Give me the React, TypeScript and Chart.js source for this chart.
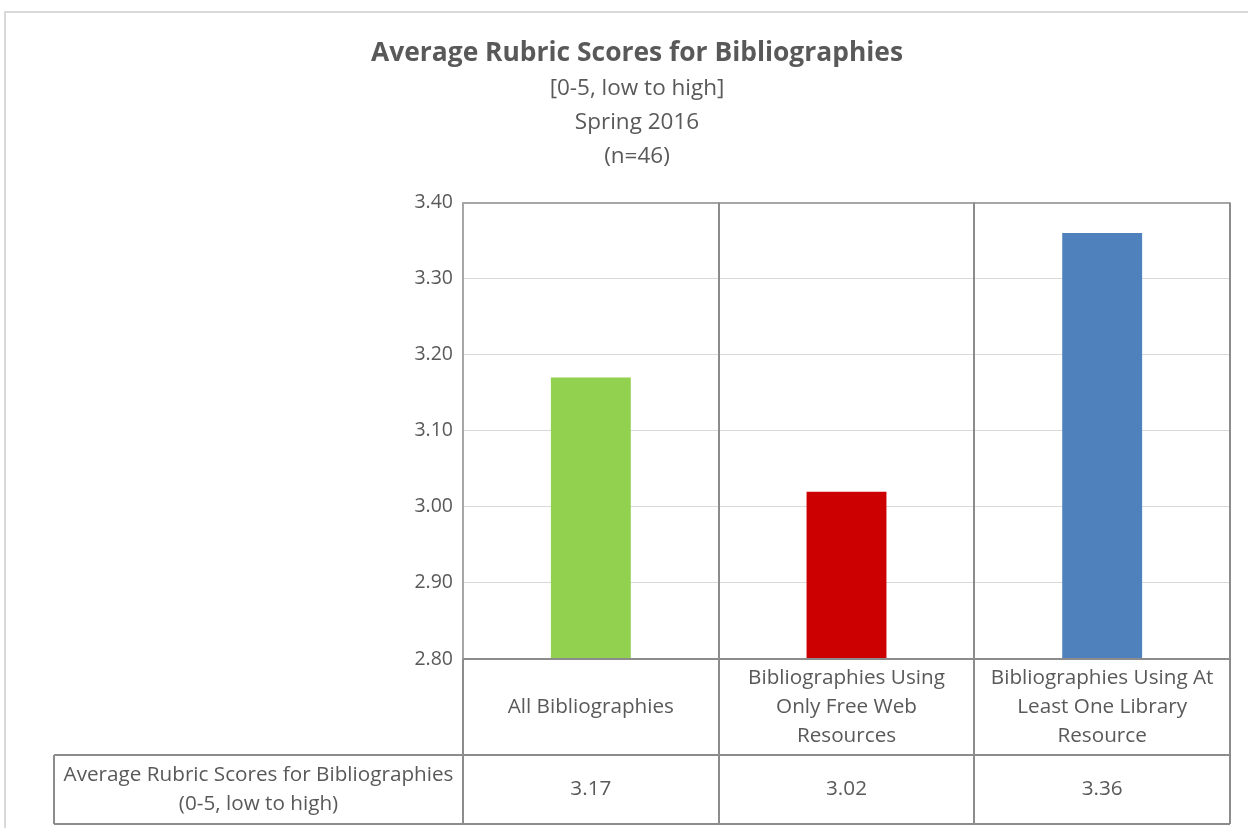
import React, { useEffect, useRef } from 'react';
import { Chart, registerables, Plugin } from 'chart.js';

Chart.register(...registerables);

// chart data
const categoryLines: string[][] = [
  ['All Bibliographies'],
  ['Bibliographies Using', 'Only Free Web', 'Resources'],
  ['Bibliographies Using At', 'Least One Library', 'Resource'],
];
const scores = [3.17, 3.02, 3.36];
const barColors = ['#92D050', '#CC0000', '#4F81BD'];
const seriesName = ['Average Rubric Scores for Bibliographies', '(0-5, low to high)'];
const titleText = 'Average Rubric Scores for Bibliographies';
const subtitleLines = ['[0-5, low to high]', 'Spring 2016', '(n=46)'];
const yMin = 2.8;
const yMax = 3.4;
const yStep = 0.1;

const FONT = '"Open Sans", sans-serif';
const TEXT = '#595959';
const LINE = '#8c8c8c';

// draws the category separators and the data table under the plot
const dataTablePlugin: Plugin<'bar'> = {
  id: 'dataTable',
  afterDraw(chart) {
    const { ctx, chartArea: a } = chart;
    const xs = chart.scales.x;
    const n = categoryLines.length;
    const cw = (a.right - a.left) / n;
    const row1Bottom = a.bottom + 96;
    const row2Bottom = row1Bottom + 69;
    const headerLeft = 48;
    const lineH = 29;

    ctx.save();
    ctx.strokeStyle = LINE;
    ctx.lineWidth = 2;
    ctx.beginPath();
    for (let i = 0; i <= n; i++) {
      const x = Math.round(a.left + i * cw);
      ctx.moveTo(x, i === 0 ? a.bottom : a.top);
      ctx.lineTo(x, row2Bottom);
    }
    ctx.moveTo(a.left, a.bottom);
    ctx.lineTo(a.right, a.bottom);
    ctx.moveTo(headerLeft, row1Bottom);
    ctx.lineTo(a.right, row1Bottom);
    ctx.moveTo(headerLeft, row2Bottom);
    ctx.lineTo(a.right, row2Bottom);
    ctx.moveTo(headerLeft, row1Bottom);
    ctx.lineTo(headerLeft, row2Bottom);
    ctx.stroke();

    ctx.fillStyle = TEXT;
    ctx.font = `20.7px ${FONT}`;
    ctx.textAlign = 'center';
    ctx.textBaseline = 'middle';

    const mid1 = (a.bottom + row1Bottom) / 2;
    const mid2 = (row1Bottom + row2Bottom) / 2;
    categoryLines.forEach((lines, i) => {
      const cx = xs.getPixelForValue(i);
      lines.forEach((t, j) => {
        ctx.fillText(t, cx, mid1 + (j - (lines.length - 1) / 2) * lineH);
      });
      ctx.fillText(scores[i].toFixed(2), cx, mid2);
    });

    const hx = (headerLeft + a.left) / 2;
    seriesName.forEach((t, j) => {
      ctx.fillText(t, hx, mid2 + (j - (seriesName.length - 1) / 2) * lineH);
    });
    ctx.restore();
  },
};

const App: React.FC = () => {
  const canvasRef = useRef<HTMLCanvasElement>(null);

  useEffect(() => {
    document.documentElement.style.overflow = 'hidden';
    document.body.style.margin = '0';
    document.body.style.overflow = 'hidden';
    if (!canvasRef.current) return;

    const chart = new Chart(canvasRef.current, {
      type: 'bar',
      data: {
        labels: categoryLines,
        datasets: [
          {
            label: seriesName.join(' '),
            data: scores,
            backgroundColor: barColors,
            categoryPercentage: 1,
            barPercentage: 0.3125,
          },
        ],
      },
      options: {
        responsive: false,
        animation: false,
        layout: { padding: { left: 38, right: 38, top: 0, bottom: 184 } },
        plugins: {
          legend: { display: false },
          tooltip: { enabled: false },
          title: {
            display: true,
            text: titleText,
            color: TEXT,
            font: { family: FONT, size: 26.4, weight: 'bold', lineHeight: 1.2 },
            padding: { top: 25, bottom: 2 },
          },
          subtitle: {
            display: true,
            text: subtitleLines,
            color: TEXT,
            font: { family: FONT, size: 22.5, lineHeight: 1.51 },
            padding: { top: 0, bottom: 29 },
          },
        },
        scales: {
          x: { display: false },
          y: {
            min: yMin,
            max: yMax,
            afterFit: (scale) => {
              scale.width = 419;
            },
            border: { display: true, color: '#a6a6a6', width: 2 },
            grid: {
              drawTicks: false,
              color: (c) => (c.tick && Math.abs(c.tick.value - yMax) < 1e-6 ? '#a6a6a6' : '#d9d9d9'),
              lineWidth: (c) => (c.tick && Math.abs(c.tick.value - yMax) < 1e-6 ? 2 : 1),
            },
            ticks: {
              stepSize: yStep,
              padding: 10,
              color: TEXT,
              font: { family: FONT, size: 19.5 },
              callback: (v) => Number(v).toFixed(2),
            },
          },
        },
      },
      plugins: [dataTablePlugin],
    });

    return () => chart.destroy();
  }, []);

  return (
    <div
      style={{
        position: 'absolute',
        left: 4,
        top: 11,
        width: 1262,
        height: 830,
        borderLeft: '2px solid #d9d9d9',
        borderTop: '2px solid #d9d9d9',
        background: '#fff',
      }}
    >
      <canvas ref={canvasRef} width={1262} height={830} style={{ display: 'block' }} />
    </div>
  );
};

export default App;
